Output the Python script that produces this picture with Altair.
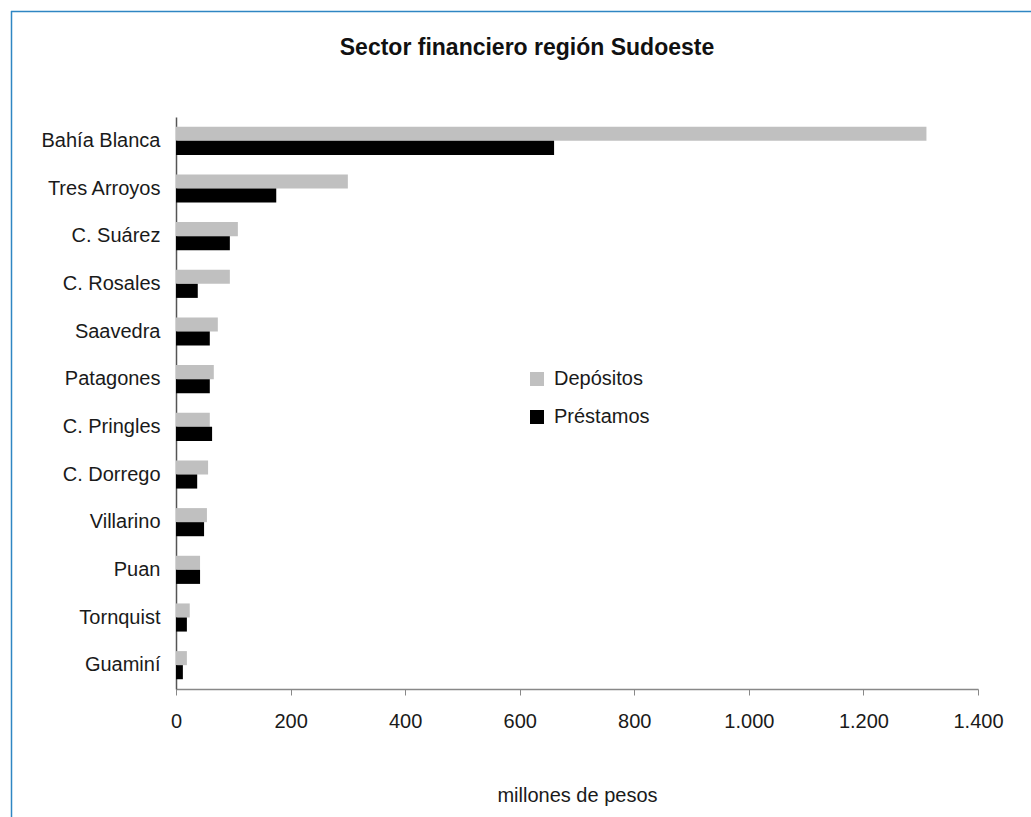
import altair as alt
import pandas as pd

# ---- data ----
localidades = ["Bahía Blanca", "Tres Arroyos", "C. Suárez", "C. Rosales", "Saavedra",
               "Patagones", "C. Pringles", "C. Dorrego", "Villarino", "Puan",
               "Tornquist", "Guaminí"]
depositos = [1310, 300, 108, 94, 73, 66, 59, 56, 54, 42, 24, 19]
prestamos = [660, 175, 94, 38, 59, 59, 63, 37, 49, 42, 19, 12]
series = ["Depósitos", "Préstamos"]
colores = ["#C0C0C0", "#000000"]
x_ticks = [0, 200, 400, 600, 800, 1000, 1200, 1400]
titulo = "Sector financiero región Sudoeste"
x_titulo = "millones de pesos"

rows = []
for loc, d, p in zip(localidades, depositos, prestamos):
    rows.append({"localidad": loc, "serie": series[0], "valor": d})
    rows.append({"localidad": loc, "serie": series[1], "valor": p})
df = pd.DataFrame(rows)

W, H = 802, 572
PL, PT = 176, 117
TOTAL_W, TOTAL_H = 1031, 817

bars = alt.Chart(df).mark_bar().encode(
    y=alt.Y("localidad:N", sort=localidades, title=None,
            scale=alt.Scale(paddingInner=0.41, paddingOuter=0.205),
            axis=alt.Axis(labelFontSize=20, labelColor="#1a1a1a", labelPadding=16,
                          ticks=False, tickSize=0, domainColor="#555555",
                          domainWidth=1.5, labelFont="Liberation Sans")),
    yOffset=alt.YOffset("serie:N", sort=series),
    x=alt.X("valor:Q", title=x_titulo,
            scale=alt.Scale(domain=[0, 1400], nice=False),
            axis=alt.Axis(values=x_ticks, grid=False, tickSize=6, tickColor="#888888",
                          domainColor="#888888", domainWidth=1.5, labelFlush=False,
                          labelFontSize=20, labelColor="#1a1a1a", labelPadding=16,
                          labelExpr="replace(format(datum.value, ','), ',', '.')",
                          titleFontSize=20, titleFontWeight="normal", titleColor="#1a1a1a",
                          titlePadding=54, labelFont="Liberation Sans",
                          titleFont="Liberation Sans")),
    color=alt.Color("serie:N", sort=series,
                    scale=alt.Scale(domain=series, range=colores),
                    legend=alt.Legend(title=None, orient="none", legendX=351, legendY=252,
                                      symbolType="square", symbolSize=196,
                                      symbolStrokeWidth=0, labelFontSize=20,
                                      labelColor="#1a1a1a", labelOffset=7,
                                      rowPadding=18, padding=0,
                                      labelFont="Liberation Sans")),
)

title_df = pd.DataFrame({"t": [titulo]})
title_mark = alt.Chart(title_df).mark_text(
    font="Liberation Sans", fontSize=23, fontWeight="bold", color="#111111",
    align="center", baseline="alphabetic"
).encode(text="t:N", x=alt.value(527 - PL), y=alt.value(55 - PT))

frame_df = pd.DataFrame({"a": [0]})
frame_top = alt.Chart(frame_df).mark_rule(color="#2F86C3", strokeWidth=1.5).encode(
    x=alt.value(11 - PL), x2=alt.value(TOTAL_W - PL), y=alt.value(11.5 - PT))
frame_left = alt.Chart(frame_df).mark_rule(color="#2F86C3", strokeWidth=1.5).encode(
    x=alt.value(11.5 - PL), y=alt.value(11 - PT), y2=alt.value(TOTAL_H - PT))

chart = alt.layer(frame_top, frame_left, bars, title_mark).properties(
    width=W, height=H,
    autosize=alt.AutoSizeParams(type="none"),
    padding={"left": PL, "top": PT, "right": TOTAL_W - PL - W, "bottom": TOTAL_H - PT - H},
    background="white",
).configure(font="Liberation Sans").configure_view(strokeWidth=0, stroke="transparent")

chart.save("out.html", embed_options={"renderer": "svg", "actions": False})
